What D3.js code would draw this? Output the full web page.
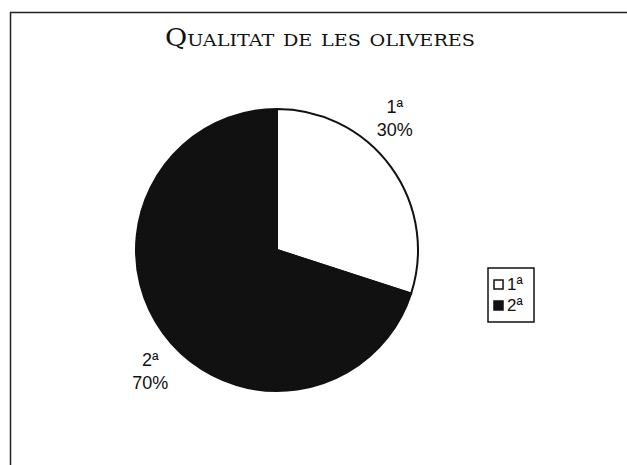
<!DOCTYPE html>
<html>
<head>
<meta charset="utf-8">
<script src="https://cdn.jsdelivr.net/npm/d3@7"></script>
<style>
  body { margin: 0; background: #fff; }
  svg { display: block; }
</style>
</head>
<body>
<div id="chart"></div>
<script>
// data
var categories = ["1ª", "2ª"];
var values = [30, 70];
var colours = ["#ffffff", "#111111"];
var title = "Qualitat de les oliveres";

var width = 627, height = 465;
var cx = 277, cy = 250, radius = 141;
// label angle nudge (radians), Excel places labels a bit off the mid-angle
var labelNudge = [0.21, 0.14];

var svg = d3.select("#chart").append("svg")
    .attr("width", width)
    .attr("height", height);

// frame (only top and left edges show in the scan)
svg.append("line")
    .attr("x1", 10).attr("y1", 12.5).attr("x2", width).attr("y2", 12.5)
    .attr("stroke", "#222").attr("stroke-width", 1.5);
svg.append("line")
    .attr("x1", 10.5).attr("y1", 12).attr("x2", 10.5).attr("y2", height)
    .attr("stroke", "#222").attr("stroke-width", 1.5);

// title
svg.append("text")
    .attr("x", 320).attr("y", 46)
    .attr("text-anchor", "middle")
    .style("font-family", "'DejaVu Serif', 'Liberation Serif', serif")
    .style("font-variant", "small-caps")
    .style("font-size", "24px")
    .attr("textLength", 310)
    .attr("lengthAdjust", "spacingAndGlyphs")
    .attr("fill", "#111")
    .text(title);

// pie
var total = d3.sum(values);
var pie = d3.pie().sort(null)(values);
var arc = d3.arc().innerRadius(0).outerRadius(radius);

var g = svg.append("g").attr("transform", "translate(" + cx + "," + cy + ")");

g.selectAll("path.slice")
    .data(pie)
    .enter().append("path")
    .attr("class", "slice")
    .attr("d", arc)
    .attr("fill", function(d, i) { return colours[i]; })
    .attr("stroke", "#111")
    .attr("stroke-width", 2);

// labels outside slices
var labels = g.selectAll("g.lbl")
    .data(pie)
    .enter().append("g")
    .attr("class", "lbl")
    .attr("transform", function(d, i) {
        var a = (d.startAngle + d.endAngle) / 2 - labelNudge[i];
        var r = radius * 1.25;
        return "translate(" + (Math.sin(a) * r) + "," + (-Math.cos(a) * r) + ")";
    });

labels.append("text")
    .attr("text-anchor", "middle")
    .attr("y", -6)
    .style("font-family", "'Liberation Sans', Arial, sans-serif")
    .style("font-size", "18px")
    .attr("fill", "#111")
    .text(function(d, i) { return categories[i]; });
labels.append("text")
    .attr("text-anchor", "middle")
    .attr("y", 17)
    .style("font-family", "'Liberation Sans', Arial, sans-serif")
    .style("font-size", "18px")
    .attr("fill", "#111")
    .text(function(d, i) { return Math.round(values[i] / total * 100) + "%"; });

// legend
var legend = svg.append("g").attr("transform", "translate(488,268)");
legend.append("rect")
    .attr("x", 0).attr("y", 0).attr("width", 46).attr("height", 54)
    .attr("fill", "#fff").attr("stroke", "#111").attr("stroke-width", 1.5);

var items = legend.selectAll("g.item")
    .data(categories)
    .enter().append("g")
    .attr("class", "item")
    .attr("transform", function(d, i) { return "translate(6," + (12 + i * 21) + ")"; });
items.append("rect")
    .attr("width", 9).attr("height", 9)
    .attr("fill", function(d, i) { return colours[i]; })
    .attr("stroke", "#111").attr("stroke-width", 1.5);
items.append("text")
    .attr("x", 13).attr("y", 10)
    .style("font-family", "'Liberation Sans', Arial, sans-serif")
    .style("font-size", "17px")
    .attr("fill", "#111")
    .text(function(d) { return d; });
</script>
</body>
</html>
